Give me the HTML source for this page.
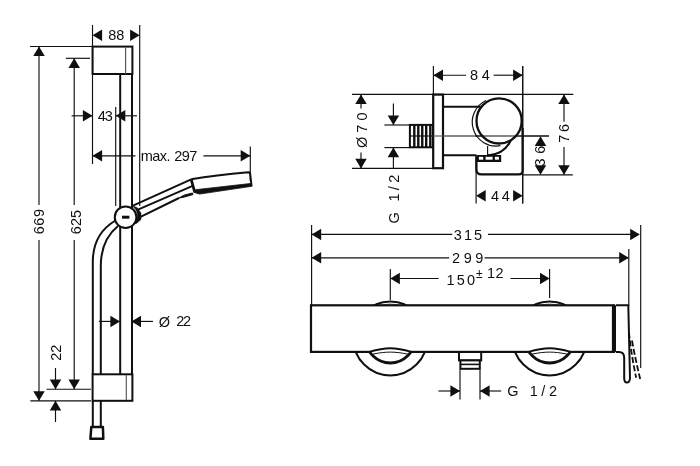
<!DOCTYPE html>
<html><head><meta charset="utf-8"><title>Dimension drawing</title>
<style>
html,body{margin:0;padding:0;background:#fff;}
body{width:700px;height:466px;overflow:hidden;}
svg{display:block;filter:grayscale(1);}
text{font-family:"Liberation Sans",sans-serif;fill:#101010;}
</style></head><body>
<svg width="700" height="466" viewBox="0 0 700 466">
<defs><clipPath id="topclip"><rect x="300" y="290" width="320" height="15.3"/></clipPath><clipPath id="botclip"><rect x="300" y="351.9" width="320" height="40"/></clipPath></defs>
<rect width="700" height="466" fill="#fff"/>
<line x1="92.5" y1="25" x2="92.5" y2="164" stroke="#101010" stroke-width="1.15" />
<line x1="139.7" y1="25" x2="139.7" y2="206" stroke="#101010" stroke-width="1.15" />
<polygon points="92.5,35.2 102.1,29.450000000000003 102.1,40.95" fill="#101010"/>
<polygon points="139.7,35.2 130.1,29.450000000000003 130.1,40.95" fill="#101010"/>
<line x1="30" y1="46.5" x2="92.5" y2="46.5" stroke="#101010" stroke-width="1.15" />
<line x1="65.8" y1="58.3" x2="90" y2="58.3" stroke="#101010" stroke-width="1.15" />
<line x1="39" y1="46.5" x2="39" y2="205" stroke="#101010" stroke-width="1.15" />
<line x1="39" y1="240" x2="39" y2="400.8" stroke="#101010" stroke-width="1.15" />
<polygon points="39,46.5 33.25,56.1 44.75,56.1" fill="#101010"/>
<polygon points="39,400.8 33.25,391.2 44.75,391.2" fill="#101010"/>
<line x1="74.2" y1="58.3" x2="74.2" y2="205" stroke="#101010" stroke-width="1.15" />
<line x1="74.2" y1="240" x2="74.2" y2="389.2" stroke="#101010" stroke-width="1.15" />
<polygon points="74.2,58.3 68.45,67.89999999999999 79.95,67.89999999999999" fill="#101010"/>
<polygon points="74.2,389.2 68.45,379.59999999999997 79.95,379.59999999999997" fill="#101010"/>
<line x1="71.6" y1="115.8" x2="92.5" y2="115.8" stroke="#101010" stroke-width="1.15" />
<polygon points="92.5,115.8 82.9,110.05 82.9,121.55" fill="#101010"/>
<line x1="115.7" y1="115.8" x2="137" y2="115.8" stroke="#101010" stroke-width="1.15" />
<polygon points="115.7,115.8 125.3,110.05 125.3,121.55" fill="#101010"/>
<line x1="115.7" y1="107" x2="115.7" y2="206" stroke="#101010" stroke-width="1.15" />
<line x1="92.5" y1="155.8" x2="135.5" y2="155.8" stroke="#101010" stroke-width="1.15" />
<polygon points="92.5,155.8 102.1,150.05 102.1,161.55" fill="#101010"/>
<line x1="203.4" y1="155.8" x2="250.3" y2="155.8" stroke="#101010" stroke-width="1.15" />
<polygon points="250.3,155.8 240.70000000000002,150.05 240.70000000000002,161.55" fill="#101010"/>
<line x1="250.3" y1="146.6" x2="250.3" y2="181" stroke="#101010" stroke-width="1.15" />
<line x1="99" y1="321.4" x2="120" y2="321.4" stroke="#101010" stroke-width="1.15" />
<polygon points="120,321.4 110.4,315.65 110.4,327.15" fill="#101010"/>
<line x1="131.4" y1="321.4" x2="153" y2="321.4" stroke="#101010" stroke-width="1.15" />
<polygon points="131.4,321.4 141.0,315.65 141.0,327.15" fill="#101010"/>
<line x1="46.5" y1="389.2" x2="91" y2="389.2" stroke="#101010" stroke-width="1.15" />
<line x1="30.3" y1="400.8" x2="91" y2="400.8" stroke="#101010" stroke-width="1.15" />
<line x1="55.5" y1="368" x2="55.5" y2="389.2" stroke="#101010" stroke-width="1.15" />
<polygon points="55.5,389.2 49.75,379.59999999999997 61.25,379.59999999999997" fill="#101010"/>
<line x1="55.5" y1="400.8" x2="55.5" y2="422" stroke="#101010" stroke-width="1.15" />
<polygon points="55.5,400.8 49.75,410.40000000000003 61.25,410.40000000000003" fill="#101010"/>
<line x1="120.2" y1="74" x2="120.2" y2="374" stroke="#101010" stroke-width="2.0" />
<line x1="132.0" y1="74" x2="132.0" y2="374" stroke="#101010" stroke-width="2.0" />
<rect x="92.6" y="46.6" width="39.8" height="27.4" fill="#fff" stroke="#101010" stroke-width="2.0"/>
<line x1="125.6" y1="47" x2="125.6" y2="74" stroke="#555" stroke-width="1.15" />
<rect x="92.6" y="374.3" width="39.8" height="26.5" fill="#fff" stroke="#101010" stroke-width="2.0"/>
<line x1="126.3" y1="375" x2="126.3" y2="400" stroke="#555" stroke-width="1.15" />
<path d="M92.8 374 L92.8 262 C92.8 243 101 229 115.5 220.5" stroke="#101010" stroke-width="2.0" fill="none" />
<path d="M100.8 374 L100.8 266 C100.8 249 107 235 118 226" stroke="#101010" stroke-width="2.0" fill="none" />
<line x1="92.8" y1="401" x2="92.8" y2="426.5" stroke="#101010" stroke-width="2.0" />
<line x1="100.8" y1="401" x2="100.8" y2="426.5" stroke="#101010" stroke-width="2.0" />
<path d="M91.3 426.9 L102.9 426.9 L103.3 438.8 L90.4 438.8 Z" stroke="#101010" stroke-width="2.5" fill="none" stroke-linejoin="round"/>
<path d="M133 205.6 L191.2 179.3" stroke="#101010" stroke-width="2.0" fill="none" />
<path d="M138 209.6 L193.2 185.7" stroke="#101010" stroke-width="1.9" fill="none" />
<path d="M139.5 217.4 L179 198" stroke="#101010" stroke-width="2.0" fill="none" />
<path d="M179 198 L184 195.2 L192.5 193 L193 194.5 L184.5 197 Z" stroke="#101010" stroke-width="1" fill="#101010" />
<path d="M191.2 179.3 Q215 175 248.5 172.2 L250 172.6 L251.6 186.4" stroke="#101010" stroke-width="2.0" fill="none" stroke-linejoin="round"/>
<path d="M191.2 179.3 L194.8 192.5" stroke="#101010" stroke-width="2.8" fill="none" />
<path d="M195.4 189.7 L250.5 183.5 L251.7 186.3 L199.5 194.1 L194.3 192.5 Z" stroke="#101010" stroke-width="0.8" fill="#101010" stroke-linejoin="round"/>
<circle cx="125.6" cy="217.2" r="10.8" fill="#fff" stroke="#101010" stroke-width="2.0"/>
<path d="M131.5 205.7 L137 207.5 L141 213 L141 219.5 L136.5 223.4 L133 224 A10.8 10.8 0 0 0 131.5 205.7 Z" stroke="#101010" stroke-width="0.5" fill="#101010" />
<line x1="122" y1="217.2" x2="129.4" y2="217.2" stroke="#101010" stroke-width="3" />
<line x1="433.4" y1="66" x2="433.4" y2="94.4" stroke="#101010" stroke-width="1.15" />
<line x1="522.7" y1="66" x2="522.7" y2="203.5" stroke="#101010" stroke-width="1.15" />
<line x1="433.4" y1="75.2" x2="466" y2="75.2" stroke="#101010" stroke-width="1.15" />
<polygon points="433.4,75.2 443.0,69.45 443.0,80.95" fill="#101010"/>
<line x1="493.6" y1="75.2" x2="522.7" y2="75.2" stroke="#101010" stroke-width="1.15" />
<polygon points="522.7,75.2 513.1,69.45 513.1,80.95" fill="#101010"/>
<line x1="352" y1="94.4" x2="573.3" y2="94.4" stroke="#101010" stroke-width="1.15" />
<line x1="352" y1="168.4" x2="433.4" y2="168.4" stroke="#101010" stroke-width="1.15" />
<line x1="361" y1="94.4" x2="361" y2="108.6" stroke="#101010" stroke-width="1.15" />
<polygon points="361,94.4 355.25,104.0 366.75,104.0" fill="#101010"/>
<line x1="361" y1="152.4" x2="361" y2="168.4" stroke="#101010" stroke-width="1.15" />
<polygon points="361,168.4 355.25,158.8 366.75,158.8" fill="#101010"/>
<line x1="393.4" y1="103.6" x2="393.4" y2="125" stroke="#101010" stroke-width="1.15" />
<polygon points="393.4,125 387.65,115.4 399.15,115.4" fill="#101010"/>
<line x1="393.4" y1="147.6" x2="393.4" y2="168.4" stroke="#101010" stroke-width="1.15" />
<polygon points="393.4,147.6 387.65,157.2 399.15,157.2" fill="#101010"/>
<line x1="384.4" y1="125" x2="409.6" y2="125" stroke="#101010" stroke-width="1.15" />
<line x1="384.4" y1="147.6" x2="409.6" y2="147.6" stroke="#101010" stroke-width="1.15" />
<line x1="409.6" y1="136.0" x2="549" y2="136.0" stroke="#101010" stroke-width="1.15" />
<line x1="564" y1="94.4" x2="564" y2="121.8" stroke="#101010" stroke-width="1.15" />
<polygon points="564,94.4 558.25,104.0 569.75,104.0" fill="#101010"/>
<line x1="564" y1="147" x2="564" y2="174.8" stroke="#101010" stroke-width="1.15" />
<polygon points="564,174.8 558.25,165.20000000000002 569.75,165.20000000000002" fill="#101010"/>
<line x1="522.7" y1="174.8" x2="572.8" y2="174.8" stroke="#101010" stroke-width="1.15" />
<polygon points="540.5,136.3 534.75,145.9 546.25,145.9" fill="#101010"/>
<polygon points="540.5,174.8 534.75,165.20000000000002 546.25,165.20000000000002" fill="#101010"/>
<line x1="476.1" y1="157" x2="476.1" y2="203.5" stroke="#101010" stroke-width="1.15" />
<polygon points="476.1,195.7 485.70000000000005,189.95 485.70000000000005,201.45" fill="#101010"/>
<polygon points="522.7,195.7 513.1,189.95 513.1,201.45" fill="#101010"/>
<rect x="409.9" y="124.9" width="23" height="22.4" fill="#fff" stroke="#101010" stroke-width="2.0"/>
<line x1="414.3" y1="125" x2="414.3" y2="147.3" stroke="#101010" stroke-width="2.4" />
<line x1="418.3" y1="125" x2="418.3" y2="147.3" stroke="#101010" stroke-width="2.4" />
<line x1="422.25" y1="125" x2="422.25" y2="147.3" stroke="#101010" stroke-width="2.4" />
<line x1="426.2" y1="125" x2="426.2" y2="147.3" stroke="#101010" stroke-width="2.4" />
<line x1="430.3" y1="125" x2="430.3" y2="147.3" stroke="#101010" stroke-width="2.4" />
<line x1="409.6" y1="136.0" x2="434" y2="136.0" stroke="#101010" stroke-width="1.15" />
<rect x="433.2" y="94.6" width="9.8" height="73.6" fill="#fff" stroke="#101010" stroke-width="2.2"/>
<line x1="433" y1="136.0" x2="444" y2="136.0" stroke="#555" stroke-width="1.15" />
<line x1="443.5" y1="106.8" x2="481" y2="106.8" stroke="#101010" stroke-width="2.0" />
<line x1="443.5" y1="155.3" x2="476.4" y2="155.3" stroke="#101010" stroke-width="2.0" />
<path d="M476.4 155.7 L476.4 169.5 Q476.4 174.4 481.5 174.4 L519 174.4 Q522.6 174.4 522.6 170.5 L522.6 128" stroke="#101010" stroke-width="2.3" fill="none" />
<rect x="476.6" y="155.0" width="24.6" height="7.0" fill="#101010"/>
<rect x="478.9" y="156.8" width="4.300000000000011" height="2.9" fill="#fff"/>
<rect x="485.6" y="156.8" width="7.0" height="2.9" fill="#fff"/>
<rect x="494.9" y="156.8" width="4.0" height="2.9" fill="#fff"/>
<path d="M511 139.8 C506.5 150 498 155 487.6 155.4" stroke="#101010" stroke-width="2.2" fill="none" />
<line x1="487.6" y1="146" x2="487.6" y2="155.7" stroke="#101010" stroke-width="1.15" />
<path d="M486.1 100.5 A23.9 23.9 0 0 0 500.4 145.7" stroke="#101010" stroke-width="1.2" fill="none" />
<circle cx="499.1" cy="120.9" r="22.6" fill="#fff" stroke="#101010" stroke-width="2.3"/>
<line x1="522.7" y1="66" x2="522.7" y2="203.5" stroke="#101010" stroke-width="1.15" />
<line x1="475" y1="136.0" x2="549" y2="136.0" stroke="#101010" stroke-width="1.15" />
<line x1="311.6" y1="225" x2="311.6" y2="305" stroke="#101010" stroke-width="1.15" />
<line x1="640.7" y1="225" x2="640.7" y2="368" stroke="#101010" stroke-width="1.15" />
<line x1="628.8" y1="249" x2="628.8" y2="306" stroke="#101010" stroke-width="1.15" />
<line x1="311.6" y1="234.4" x2="452.2" y2="234.4" stroke="#101010" stroke-width="1.15" />
<polygon points="311.6,234.4 321.20000000000005,228.65 321.20000000000005,240.15" fill="#101010"/>
<line x1="488" y1="234.4" x2="639" y2="234.4" stroke="#101010" stroke-width="1.15" />
<polygon points="639.8,234.4 630.1999999999999,228.65 630.1999999999999,240.15" fill="#101010"/>
<line x1="311.6" y1="257.8" x2="449.2" y2="257.8" stroke="#101010" stroke-width="1.15" />
<polygon points="311.6,257.8 321.20000000000005,252.05 321.20000000000005,263.55" fill="#101010"/>
<line x1="484.5" y1="257.8" x2="628.4" y2="257.8" stroke="#101010" stroke-width="1.15" />
<polygon points="628.8,257.8 619.1999999999999,252.05 619.1999999999999,263.55" fill="#101010"/>
<line x1="390.3" y1="269" x2="390.3" y2="300" stroke="#101010" stroke-width="1.15" />
<line x1="549.6" y1="269" x2="549.6" y2="298" stroke="#101010" stroke-width="1.15" />
<line x1="390.3" y1="278.5" x2="438.7" y2="278.5" stroke="#101010" stroke-width="1.15" />
<polygon points="390.3,278.5 399.90000000000003,272.75 399.90000000000003,284.25" fill="#101010"/>
<line x1="510.6" y1="278.5" x2="549.6" y2="278.5" stroke="#101010" stroke-width="1.15" />
<polygon points="549.6,278.5 540.0,272.75 540.0,284.25" fill="#101010"/>
<circle cx="390.3" cy="338.4" r="37.0" fill="#fff" stroke="#101010" stroke-width="2.0"/>
<circle cx="390.3" cy="338.4" r="34.4" fill="none" stroke="#666" stroke-width="0.9" clip-path="url(#topclip)"/>
<circle cx="549.6" cy="338.4" r="37.0" fill="#fff" stroke="#101010" stroke-width="2.0"/>
<circle cx="549.6" cy="338.4" r="34.4" fill="none" stroke="#666" stroke-width="0.9" clip-path="url(#topclip)"/>
<rect x="459" y="352" width="22.2" height="8.4" fill="#fff" stroke="#101010" stroke-width="2.0"/>
<rect x="460.4" y="360.4" width="19.4" height="8.4" fill="#fff" stroke="#101010" stroke-width="2.0"/>
<line x1="460.4" y1="364.4" x2="479.8" y2="364.4" stroke="#101010" stroke-width="1.6" />
<line x1="460.0" y1="369.5" x2="460.0" y2="399.4" stroke="#101010" stroke-width="1.15" />
<line x1="480.0" y1="369.5" x2="480.0" y2="399.4" stroke="#101010" stroke-width="1.15" />
<line x1="438.4" y1="391.0" x2="460.0" y2="391.0" stroke="#101010" stroke-width="1.15" />
<polygon points="460.0,391.0 450.4,385.25 450.4,396.75" fill="#101010"/>
<line x1="480.0" y1="391.0" x2="501.2" y2="391.0" stroke="#101010" stroke-width="1.15" />
<polygon points="480.0,391.0 489.6,385.25 489.6,396.75" fill="#101010"/>
<rect x="311" y="305.3" width="303" height="46.6" fill="#fff" stroke="#101010" stroke-width="2.2"/>
<rect x="370.7" y="350" width="39.2" height="4" fill="#fff"/>
<circle cx="390.3" cy="338.4" r="24.6" fill="none" stroke="#101010" stroke-width="2.9" clip-path="url(#botclip)"/>
<path d="M369.3 351.9 C378.3 349.2 384.3 348.2 390.3 348.2 C396.3 348.2 402.3 349.2 411.3 351.9" stroke="#101010" stroke-width="2.0" fill="none" />
<path d="M372.5 354.2 C380.3 352.6 385.3 352.1 390.3 352.1 C395.3 352.1 400.3 352.6 408.1 354.2" stroke="#101010" stroke-width="1.0" fill="none" />
<rect x="530.0" y="350" width="39.2" height="4" fill="#fff"/>
<circle cx="549.6" cy="338.4" r="24.6" fill="none" stroke="#101010" stroke-width="2.9" clip-path="url(#botclip)"/>
<path d="M528.6 351.9 C537.6 349.2 543.6 348.2 549.6 348.2 C555.6 348.2 561.6 349.2 570.6 351.9" stroke="#101010" stroke-width="2.0" fill="none" />
<path d="M531.8000000000001 354.2 C539.6 352.6 544.6 352.1 549.6 352.1 C554.6 352.1 559.6 352.6 567.4 354.2" stroke="#101010" stroke-width="1.0" fill="none" />
<rect x="611.9" y="305.3" width="4.6" height="46.6" fill="#101010"/>
<path d="M616 305.3 L628.3 305.3 L630 378 Q629.8 382.6 626.8 382.6 Q624.2 382.6 624.2 378 L624.2 358 Q624.2 352 619 352 L616 352" stroke="#101010" stroke-width="2.0" fill="#fff" stroke-linejoin="round"/>
<path d="M628.9 332 Q631.5 356 636.2 377.8" stroke="#101010" stroke-width="1.8" fill="none" stroke-dasharray="6 2.4"/>
<path d="M632 340.5 Q635.5 360 640.2 379" stroke="#101010" stroke-width="1.8" fill="none" stroke-dasharray="6 2.4"/>
<text x="108.3" y="40.4" font-size="14.5" letter-spacing="0.0">88</text>
<text x="97.7" y="121.0" font-size="14.5" letter-spacing="-1.0">43</text>
<text x="140.75" y="161.2" font-size="14.5" letter-spacing="-0.57">max.</text>
<text x="174.15" y="160.9" font-size="14.5" letter-spacing="-0.45">297</text>
<text x="26.2" y="226.3" font-size="14.5" letter-spacing="0.55" transform="rotate(-90 39.2 221.3)">669</text>
<text x="63.2" y="226.7" font-size="14.5" letter-spacing="0.1" transform="rotate(-90 75.7 221.7)">625</text>
<text x="158.85" y="326.7" font-size="14.5" letter-spacing="0.0">Ø</text>
<text x="176.25" y="326.2" font-size="14.5" letter-spacing="-1.3">22</text>
<text x="47.9" y="357.3" font-size="14.5" letter-spacing="0.0" transform="rotate(-90 56.4 352.3)">22</text>
<text x="470.1" y="80.0" font-size="14.5" letter-spacing="3.6">84</text>
<text x="343.4" y="135.6" font-size="14.5" letter-spacing="4.15" transform="rotate(-90 361.4 130.1)">Ø70</text>
<text x="368.9" y="204.5" font-size="14.5" letter-spacing="3.32" transform="rotate(-90 393.4 199.0)">G 1/2</text>
<text x="554.9" y="138.2" font-size="14.5" letter-spacing="2.6" transform="rotate(-90 564.4 133.2)">76</text>
<text x="529.9" y="161.0" font-size="14.5" letter-spacing="4.6" transform="rotate(-90 540.4 156.0)">36</text>
<text x="491.0" y="200.6" font-size="14.5" letter-spacing="2.7">44</text>
<text x="453.7" y="239.5" font-size="14.5" letter-spacing="2.15">315</text>
<text x="452.1" y="263.4" font-size="14.5" letter-spacing="3.55">299</text>
<text x="446.6" y="285.4" font-size="14.5" letter-spacing="2.2">150</text>
<text x="476.1" y="277.9" font-size="12" letter-spacing="0.0">±</text>
<text x="487.1" y="277.9" font-size="14.5" letter-spacing="0.3">12</text>
<text x="507.2" y="396.3" font-size="14.5" letter-spacing="3.6">G 1/2</text>
</svg>
</body></html>
